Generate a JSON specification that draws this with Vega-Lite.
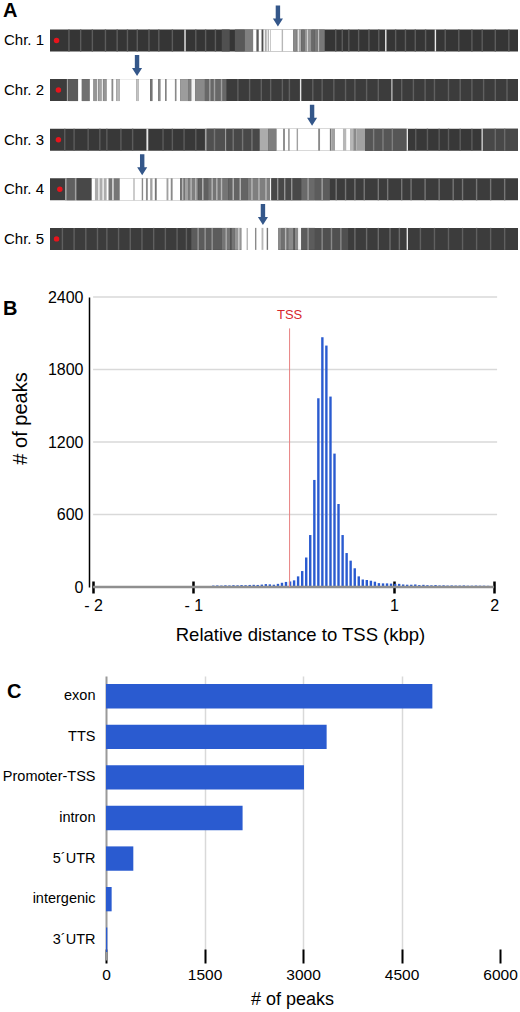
{
  "$schema": "https://vega.github.io/schema/vega-lite/v6.json",
  "padding": {"left": 2, "top": 1, "right": 0, "bottom": 0},
  "background": "white",
  "spacing": 32,
  "config": {
    "view": {"stroke": null},
    "font": "Liberation Sans",
    "axis": {"labelColor": "#000", "titleColor": "#000", "titleFontWeight": "normal", "labelFont": "Liberation Sans", "titleFont": "Liberation Sans"},
    "title": {"font": "Liberation Sans", "fontWeight": "bold", "fontSize": 20, "color": "#000", "anchor": "start", "frame": "group"}
  },
  "vconcat": [
    {
      "width": 468,
      "height": 256,
      "title": {"text": "A", "dx": -47, "offset": -20},
      "layer": [
        {
          "data": {"values": [
            {"chr": "Chr. 1", "s": 0, "e": 100, "d": 0.92},
            {"chr": "Chr. 1", "s": 36.7, "e": 38.4, "d": 0.78},
            {"chr": "Chr. 1", "s": 39.5, "e": 41.6, "d": 0.74},
            {"chr": "Chr. 1", "s": 41.6, "e": 43.4, "d": 0.55},
            {"chr": "Chr. 1", "s": 43.4, "e": 52.0, "d": 0},
            {"chr": "Chr. 1", "s": 44.1, "e": 44.6, "d": 0.72},
            {"chr": "Chr. 1", "s": 45.2, "e": 45.6, "d": 0.8},
            {"chr": "Chr. 1", "s": 45.9, "e": 46.3, "d": 0.35},
            {"chr": "Chr. 1", "s": 46.5, "e": 46.8, "d": 0.3},
            {"chr": "Chr. 1", "s": 47.0, "e": 47.2, "d": 0.25},
            {"chr": "Chr. 1", "s": 49.5, "e": 49.8, "d": 0.3},
            {"chr": "Chr. 1", "s": 52.0, "e": 52.7, "d": 0.5},
            {"chr": "Chr. 1", "s": 52.7, "e": 53.7, "d": 0.35},
            {"chr": "Chr. 1", "s": 53.7, "e": 54.4, "d": 0.62},
            {"chr": "Chr. 1", "s": 54.4, "e": 55.9, "d": 0.45},
            {"chr": "Chr. 1", "s": 55.9, "e": 56.6, "d": 0.65},
            {"chr": "Chr. 1", "s": 56.6, "e": 58.7, "d": 0.58},
            {"chr": "Chr. 1", "s": 53.0, "e": 53.2, "d": 0.1},
            {"chr": "Chr. 1", "s": 54.9, "e": 55.1, "d": 0.15},
            {"chr": "Chr. 1", "s": 57.3, "e": 57.5, "d": 0.2},
            {"chr": "Chr. 1", "s": 28.7, "e": 29.0, "d": 0.08},
            {"chr": "Chr. 1", "s": 71.6, "e": 71.9, "d": 0.08},
            {"chr": "Chr. 1", "s": 82.2, "e": 82.5, "d": 0.08},
            {"chr": "Chr. 1", "s": 3.9, "e": 4.2, "d": 0.72},
            {"chr": "Chr. 1", "s": 6.4, "e": 6.7, "d": 0.72},
            {"chr": "Chr. 1", "s": 8.9, "e": 9.2, "d": 0.72},
            {"chr": "Chr. 1", "s": 11.7, "e": 12.0, "d": 0.72},
            {"chr": "Chr. 1", "s": 14.2, "e": 14.5, "d": 0.72},
            {"chr": "Chr. 1", "s": 16.4, "e": 16.7, "d": 0.72},
            {"chr": "Chr. 1", "s": 18.5, "e": 18.8, "d": 0.72},
            {"chr": "Chr. 1", "s": 21.0, "e": 21.3, "d": 0.72},
            {"chr": "Chr. 1", "s": 23.1, "e": 23.4, "d": 0.72},
            {"chr": "Chr. 1", "s": 26.0, "e": 26.3, "d": 0.72},
            {"chr": "Chr. 1", "s": 31.0, "e": 31.3, "d": 0.72},
            {"chr": "Chr. 1", "s": 33.1, "e": 33.4, "d": 0.72},
            {"chr": "Chr. 1", "s": 35.2, "e": 35.5, "d": 0.72},
            {"chr": "Chr. 1", "s": 60.9, "e": 61.2, "d": 0.72},
            {"chr": "Chr. 1", "s": 62.3, "e": 62.6, "d": 0.72},
            {"chr": "Chr. 1", "s": 63.7, "e": 64.0, "d": 0.72},
            {"chr": "Chr. 1", "s": 65.8, "e": 66.1, "d": 0.72},
            {"chr": "Chr. 1", "s": 68.0, "e": 68.3, "d": 0.72},
            {"chr": "Chr. 1", "s": 70.1, "e": 70.4, "d": 0.72},
            {"chr": "Chr. 1", "s": 73.7, "e": 74.0, "d": 0.72},
            {"chr": "Chr. 1", "s": 75.8, "e": 76.1, "d": 0.72},
            {"chr": "Chr. 1", "s": 77.9, "e": 78.2, "d": 0.72},
            {"chr": "Chr. 1", "s": 80.1, "e": 80.4, "d": 0.72},
            {"chr": "Chr. 1", "s": 84.3, "e": 84.6, "d": 0.72},
            {"chr": "Chr. 1", "s": 87.2, "e": 87.5, "d": 0.72},
            {"chr": "Chr. 1", "s": 90.0, "e": 90.3, "d": 0.72},
            {"chr": "Chr. 1", "s": 92.2, "e": 92.5, "d": 0.72},
            {"chr": "Chr. 1", "s": 95.0, "e": 95.3, "d": 0.72},
            {"chr": "Chr. 1", "s": 97.9, "e": 98.2, "d": 0.72},

            {"chr": "Chr. 2", "s": 0, "e": 100, "d": 0.88},
            {"chr": "Chr. 2", "s": 3.6, "e": 3.9, "d": 0.4},
            {"chr": "Chr. 2", "s": 3.9, "e": 6.0, "d": 0.72},
            {"chr": "Chr. 2", "s": 6.0, "e": 6.8, "d": 0},
            {"chr": "Chr. 2", "s": 6.8, "e": 8.5, "d": 0.62},
            {"chr": "Chr. 2", "s": 8.5, "e": 9.3, "d": 0},
            {"chr": "Chr. 2", "s": 9.3, "e": 10.0, "d": 0.45},
            {"chr": "Chr. 2", "s": 10.0, "e": 10.3, "d": 0.1},
            {"chr": "Chr. 2", "s": 10.3, "e": 11.0, "d": 0.4},
            {"chr": "Chr. 2", "s": 11.0, "e": 11.4, "d": 0.1},
            {"chr": "Chr. 2", "s": 11.4, "e": 12.1, "d": 0.45},
            {"chr": "Chr. 2", "s": 12.1, "e": 13.2, "d": 0},
            {"chr": "Chr. 2", "s": 13.2, "e": 13.5, "d": 0.5},
            {"chr": "Chr. 2", "s": 13.5, "e": 14.2, "d": 0},
            {"chr": "Chr. 2", "s": 14.2, "e": 14.9, "d": 0.3},
            {"chr": "Chr. 2", "s": 14.9, "e": 18.5, "d": 0},
            {"chr": "Chr. 2", "s": 18.5, "e": 19.0, "d": 0.25},
            {"chr": "Chr. 2", "s": 19.0, "e": 21.4, "d": 0},
            {"chr": "Chr. 2", "s": 21.4, "e": 21.9, "d": 0.6},
            {"chr": "Chr. 2", "s": 21.9, "e": 23.1, "d": 0},
            {"chr": "Chr. 2", "s": 23.1, "e": 23.6, "d": 0.5},
            {"chr": "Chr. 2", "s": 23.6, "e": 24.6, "d": 0},
            {"chr": "Chr. 2", "s": 24.6, "e": 24.9, "d": 0.5},
            {"chr": "Chr. 2", "s": 24.9, "e": 26.7, "d": 0},
            {"chr": "Chr. 2", "s": 26.7, "e": 27.0, "d": 0.5},
            {"chr": "Chr. 2", "s": 27.0, "e": 27.8, "d": 0},
            {"chr": "Chr. 2", "s": 27.8, "e": 29.5, "d": 0.42},
            {"chr": "Chr. 2", "s": 29.5, "e": 30.2, "d": 0.55},
            {"chr": "Chr. 2", "s": 30.2, "e": 31.0, "d": 0.05},
            {"chr": "Chr. 2", "s": 31.0, "e": 33.1, "d": 0.5},
            {"chr": "Chr. 2", "s": 33.1, "e": 37.7, "d": 0.66},
            {"chr": "Chr. 2", "s": 34.0, "e": 34.3, "d": 0.4},
            {"chr": "Chr. 2", "s": 35.0, "e": 35.3, "d": 0.4},
            {"chr": "Chr. 2", "s": 36.5, "e": 36.8, "d": 0.4},
            {"chr": "Chr. 2", "s": 40.0, "e": 40.3, "d": 0.7},
            {"chr": "Chr. 2", "s": 42.5, "e": 42.8, "d": 0.7},
            {"chr": "Chr. 2", "s": 45.0, "e": 45.3, "d": 0.7},
            {"chr": "Chr. 2", "s": 47.0, "e": 47.3, "d": 0.7},
            {"chr": "Chr. 2", "s": 49.5, "e": 49.8, "d": 0.7},
            {"chr": "Chr. 2", "s": 51.0, "e": 51.3, "d": 0.7},
            {"chr": "Chr. 2", "s": 53.4, "e": 53.7, "d": 0.1},
            {"chr": "Chr. 2", "s": 56.0, "e": 56.3, "d": 0.7},
            {"chr": "Chr. 2", "s": 58.0, "e": 58.3, "d": 0.7},
            {"chr": "Chr. 2", "s": 60.5, "e": 60.8, "d": 0.7},
            {"chr": "Chr. 2", "s": 63.0, "e": 63.3, "d": 0.7},
            {"chr": "Chr. 2", "s": 65.0, "e": 65.3, "d": 0.7},
            {"chr": "Chr. 2", "s": 67.5, "e": 67.8, "d": 0.7},
            {"chr": "Chr. 2", "s": 70.0, "e": 70.3, "d": 0.7},
            {"chr": "Chr. 2", "s": 72.9, "e": 73.2, "d": 0.3},
            {"chr": "Chr. 2", "s": 75.0, "e": 75.3, "d": 0.7},
            {"chr": "Chr. 2", "s": 77.5, "e": 77.8, "d": 0.7},
            {"chr": "Chr. 2", "s": 80.0, "e": 80.3, "d": 0.7},
            {"chr": "Chr. 2", "s": 82.0, "e": 82.3, "d": 0.7},
            {"chr": "Chr. 2", "s": 85.0, "e": 85.3, "d": 0.7},
            {"chr": "Chr. 2", "s": 87.5, "e": 87.8, "d": 0.7},
            {"chr": "Chr. 2", "s": 90.0, "e": 90.3, "d": 0.7},
            {"chr": "Chr. 2", "s": 92.5, "e": 92.8, "d": 0.7},
            {"chr": "Chr. 2", "s": 95.0, "e": 95.3, "d": 0.7},
            {"chr": "Chr. 2", "s": 97.5, "e": 97.8, "d": 0.7},

            {"chr": "Chr. 3", "s": 0, "e": 100, "d": 0.9},
            {"chr": "Chr. 3", "s": 20.6, "e": 21.0, "d": 0.1},
            {"chr": "Chr. 3", "s": 33.1, "e": 33.5, "d": 0.4},
            {"chr": "Chr. 3", "s": 33.5, "e": 37.4, "d": 0.78},
            {"chr": "Chr. 3", "s": 37.4, "e": 37.7, "d": 0.4},
            {"chr": "Chr. 3", "s": 37.7, "e": 44.8, "d": 0.82},
            {"chr": "Chr. 3", "s": 44.8, "e": 46.6, "d": 0.35},
            {"chr": "Chr. 3", "s": 46.6, "e": 48.4, "d": 0.55},
            {"chr": "Chr. 3", "s": 48.4, "e": 67.3, "d": 0},
            {"chr": "Chr. 3", "s": 49.8, "e": 50.2, "d": 0.5},
            {"chr": "Chr. 3", "s": 50.9, "e": 51.2, "d": 0.5},
            {"chr": "Chr. 3", "s": 52.7, "e": 53.0, "d": 0.4},
            {"chr": "Chr. 3", "s": 57.3, "e": 57.7, "d": 0.5},
            {"chr": "Chr. 3", "s": 59.8, "e": 60.1, "d": 0.6},
            {"chr": "Chr. 3", "s": 60.1, "e": 60.9, "d": 0.4},
            {"chr": "Chr. 3", "s": 62.6, "e": 63.3, "d": 0.3},
            {"chr": "Chr. 3", "s": 64.1, "e": 64.8, "d": 0.3},
            {"chr": "Chr. 3", "s": 64.8, "e": 65.5, "d": 0.5},
            {"chr": "Chr. 3", "s": 65.5, "e": 67.3, "d": 0.4},
            {"chr": "Chr. 3", "s": 67.3, "e": 76.2, "d": 0.75},
            {"chr": "Chr. 3", "s": 76.2, "e": 76.5, "d": 0.1},
            {"chr": "Chr. 3", "s": 92.2, "e": 92.5, "d": 0.15},
            {"chr": "Chr. 3", "s": 92.5, "e": 100, "d": 0.82},
            {"chr": "Chr. 3", "s": 3.0, "e": 3.3, "d": 0.72},
            {"chr": "Chr. 3", "s": 5.0, "e": 5.3, "d": 0.72},
            {"chr": "Chr. 3", "s": 8.0, "e": 8.3, "d": 0.72},
            {"chr": "Chr. 3", "s": 10.5, "e": 10.8, "d": 0.72},
            {"chr": "Chr. 3", "s": 12.0, "e": 12.3, "d": 0.72},
            {"chr": "Chr. 3", "s": 15.0, "e": 15.3, "d": 0.72},
            {"chr": "Chr. 3", "s": 17.5, "e": 17.8, "d": 0.72},
            {"chr": "Chr. 3", "s": 24.0, "e": 24.3, "d": 0.72},
            {"chr": "Chr. 3", "s": 26.0, "e": 26.3, "d": 0.72},
            {"chr": "Chr. 3", "s": 28.5, "e": 28.8, "d": 0.72},
            {"chr": "Chr. 3", "s": 31.0, "e": 31.3, "d": 0.72},
            {"chr": "Chr. 3", "s": 35.0, "e": 35.3, "d": 0.6},
            {"chr": "Chr. 3", "s": 39.0, "e": 39.3, "d": 0.6},
            {"chr": "Chr. 3", "s": 41.0, "e": 41.3, "d": 0.6},
            {"chr": "Chr. 3", "s": 43.0, "e": 43.3, "d": 0.6},
            {"chr": "Chr. 3", "s": 69.0, "e": 69.3, "d": 0.55},
            {"chr": "Chr. 3", "s": 71.0, "e": 71.3, "d": 0.55},
            {"chr": "Chr. 3", "s": 73.0, "e": 73.3, "d": 0.55},
            {"chr": "Chr. 3", "s": 78.0, "e": 78.3, "d": 0.72},
            {"chr": "Chr. 3", "s": 80.5, "e": 80.8, "d": 0.72},
            {"chr": "Chr. 3", "s": 83.0, "e": 83.3, "d": 0.72},
            {"chr": "Chr. 3", "s": 85.0, "e": 85.3, "d": 0.72},
            {"chr": "Chr. 3", "s": 87.5, "e": 87.8, "d": 0.72},
            {"chr": "Chr. 3", "s": 90.0, "e": 90.3, "d": 0.72},
            {"chr": "Chr. 3", "s": 95.0, "e": 95.3, "d": 0.65},
            {"chr": "Chr. 3", "s": 97.0, "e": 97.3, "d": 0.65},

            {"chr": "Chr. 4", "s": 0, "e": 100, "d": 0.88},
            {"chr": "Chr. 4", "s": 3.2, "e": 3.6, "d": 0.4},
            {"chr": "Chr. 4", "s": 3.6, "e": 5.3, "d": 0.7},
            {"chr": "Chr. 4", "s": 5.3, "e": 5.7, "d": 0.4},
            {"chr": "Chr. 4", "s": 5.7, "e": 8.9, "d": 0.82},
            {"chr": "Chr. 4", "s": 8.9, "e": 27.8, "d": 0},
            {"chr": "Chr. 4", "s": 9.6, "e": 12.1, "d": 0.35},
            {"chr": "Chr. 4", "s": 10.3, "e": 10.6, "d": 0.05},
            {"chr": "Chr. 4", "s": 11.2, "e": 11.5, "d": 0.05},
            {"chr": "Chr. 4", "s": 12.5, "e": 14.9, "d": 0.6},
            {"chr": "Chr. 4", "s": 13.3, "e": 13.6, "d": 0.1},
            {"chr": "Chr. 4", "s": 17.8, "e": 18.1, "d": 0.3},
            {"chr": "Chr. 4", "s": 19.6, "e": 19.9, "d": 0.5},
            {"chr": "Chr. 4", "s": 20.5, "e": 20.9, "d": 0.5},
            {"chr": "Chr. 4", "s": 21.4, "e": 21.9, "d": 0.4},
            {"chr": "Chr. 4", "s": 22.4, "e": 22.8, "d": 0.6},
            {"chr": "Chr. 4", "s": 24.9, "e": 25.3, "d": 0.4},
            {"chr": "Chr. 4", "s": 25.8, "e": 26.2, "d": 0.5},
            {"chr": "Chr. 4", "s": 27.8, "e": 28.8, "d": 0.6},
            {"chr": "Chr. 4", "s": 28.8, "e": 29.5, "d": 0.4},
            {"chr": "Chr. 4", "s": 29.5, "e": 31.7, "d": 0.55},
            {"chr": "Chr. 4", "s": 31.7, "e": 33.8, "d": 0.7},
            {"chr": "Chr. 4", "s": 33.8, "e": 38.1, "d": 0.6},
            {"chr": "Chr. 4", "s": 38.1, "e": 42.3, "d": 0.68},
            {"chr": "Chr. 4", "s": 42.3, "e": 47.0, "d": 0.55},
            {"chr": "Chr. 4", "s": 47.0, "e": 47.3, "d": 0.05},
            {"chr": "Chr. 4", "s": 47.3, "e": 53.7, "d": 0.82},
            {"chr": "Chr. 4", "s": 53.7, "e": 56.6, "d": 0.65},
            {"chr": "Chr. 4", "s": 56.6, "e": 59.8, "d": 0.72},
            {"chr": "Chr. 4", "s": 28.2, "e": 28.5, "d": 0.3},
            {"chr": "Chr. 4", "s": 30.0, "e": 30.3, "d": 0.3},
            {"chr": "Chr. 4", "s": 31.0, "e": 31.3, "d": 0.3},
            {"chr": "Chr. 4", "s": 32.5, "e": 32.8, "d": 0.3},
            {"chr": "Chr. 4", "s": 34.5, "e": 34.8, "d": 0.3},
            {"chr": "Chr. 4", "s": 35.5, "e": 35.8, "d": 0.3},
            {"chr": "Chr. 4", "s": 36.5, "e": 36.8, "d": 0.3},
            {"chr": "Chr. 4", "s": 39.0, "e": 39.3, "d": 0.3},
            {"chr": "Chr. 4", "s": 40.5, "e": 40.8, "d": 0.3},
            {"chr": "Chr. 4", "s": 43.0, "e": 43.3, "d": 0.3},
            {"chr": "Chr. 4", "s": 44.5, "e": 44.8, "d": 0.3},
            {"chr": "Chr. 4", "s": 46.0, "e": 46.3, "d": 0.3},
            {"chr": "Chr. 4", "s": 48.5, "e": 48.8, "d": 0.45},
            {"chr": "Chr. 4", "s": 50.0, "e": 50.3, "d": 0.45},
            {"chr": "Chr. 4", "s": 51.5, "e": 51.8, "d": 0.45},
            {"chr": "Chr. 4", "s": 55.0, "e": 55.3, "d": 0.4},
            {"chr": "Chr. 4", "s": 58.0, "e": 58.3, "d": 0.4},
            {"chr": "Chr. 4", "s": 61.0, "e": 61.3, "d": 0.6},
            {"chr": "Chr. 4", "s": 63.0, "e": 63.3, "d": 0.6},
            {"chr": "Chr. 4", "s": 65.0, "e": 65.3, "d": 0.6},
            {"chr": "Chr. 4", "s": 67.0, "e": 67.3, "d": 0.6},
            {"chr": "Chr. 4", "s": 70.0, "e": 70.3, "d": 0.6},
            {"chr": "Chr. 4", "s": 72.0, "e": 72.3, "d": 0.6},
            {"chr": "Chr. 4", "s": 75.0, "e": 75.3, "d": 0.6},
            {"chr": "Chr. 4", "s": 77.0, "e": 77.3, "d": 0.6},
            {"chr": "Chr. 4", "s": 80.0, "e": 80.3, "d": 0.6},
            {"chr": "Chr. 4", "s": 83.0, "e": 83.3, "d": 0.6},
            {"chr": "Chr. 4", "s": 86.0, "e": 86.3, "d": 0.6},
            {"chr": "Chr. 4", "s": 88.0, "e": 88.3, "d": 0.6},
            {"chr": "Chr. 4", "s": 91.0, "e": 91.3, "d": 0.6},
            {"chr": "Chr. 4", "s": 94.0, "e": 94.3, "d": 0.6},
            {"chr": "Chr. 4", "s": 97.0, "e": 97.3, "d": 0.6},

            {"chr": "Chr. 5", "s": 0, "e": 100, "d": 0.88},
            {"chr": "Chr. 5", "s": 30.2, "e": 36.7, "d": 0.72},
            {"chr": "Chr. 5", "s": 36.7, "e": 39.5, "d": 0.6},
            {"chr": "Chr. 5", "s": 39.5, "e": 40.9, "d": 0.45},
            {"chr": "Chr. 5", "s": 40.9, "e": 48.8, "d": 0},
            {"chr": "Chr. 5", "s": 42.0, "e": 42.3, "d": 0.3},
            {"chr": "Chr. 5", "s": 43.8, "e": 44.1, "d": 0.5},
            {"chr": "Chr. 5", "s": 45.2, "e": 45.6, "d": 0.3},
            {"chr": "Chr. 5", "s": 46.3, "e": 46.6, "d": 0.6},
            {"chr": "Chr. 5", "s": 48.8, "e": 49.5, "d": 0.5},
            {"chr": "Chr. 5", "s": 49.5, "e": 50.9, "d": 0.62},
            {"chr": "Chr. 5", "s": 50.9, "e": 53.0, "d": 0.5},
            {"chr": "Chr. 5", "s": 53.0, "e": 53.7, "d": 0.05},
            {"chr": "Chr. 5", "s": 53.7, "e": 56.6, "d": 0.72},
            {"chr": "Chr. 5", "s": 56.6, "e": 63.7, "d": 0.78},
            {"chr": "Chr. 5", "s": 76.2, "e": 76.5, "d": 0.1},
            {"chr": "Chr. 5", "s": 2.5, "e": 2.8, "d": 0.7},
            {"chr": "Chr. 5", "s": 5.0, "e": 5.3, "d": 0.7},
            {"chr": "Chr. 5", "s": 7.5, "e": 7.8, "d": 0.7},
            {"chr": "Chr. 5", "s": 10.0, "e": 10.3, "d": 0.7},
            {"chr": "Chr. 5", "s": 12.0, "e": 12.3, "d": 0.7},
            {"chr": "Chr. 5", "s": 14.5, "e": 14.8, "d": 0.7},
            {"chr": "Chr. 5", "s": 17.0, "e": 17.3, "d": 0.7},
            {"chr": "Chr. 5", "s": 19.5, "e": 19.8, "d": 0.7},
            {"chr": "Chr. 5", "s": 22.0, "e": 22.3, "d": 0.7},
            {"chr": "Chr. 5", "s": 24.5, "e": 24.8, "d": 0.7},
            {"chr": "Chr. 5", "s": 27.0, "e": 27.3, "d": 0.7},
            {"chr": "Chr. 5", "s": 29.0, "e": 29.3, "d": 0.7},
            {"chr": "Chr. 5", "s": 31.5, "e": 31.8, "d": 0.45},
            {"chr": "Chr. 5", "s": 33.0, "e": 33.3, "d": 0.45},
            {"chr": "Chr. 5", "s": 34.5, "e": 34.8, "d": 0.45},
            {"chr": "Chr. 5", "s": 37.5, "e": 37.8, "d": 0.35},
            {"chr": "Chr. 5", "s": 38.5, "e": 38.8, "d": 0.8},
            {"chr": "Chr. 5", "s": 40.2, "e": 40.5, "d": 0.2},
            {"chr": "Chr. 5", "s": 50.2, "e": 50.5, "d": 0.3},
            {"chr": "Chr. 5", "s": 52.0, "e": 52.3, "d": 0.8},
            {"chr": "Chr. 5", "s": 55.0, "e": 55.3, "d": 0.45},
            {"chr": "Chr. 5", "s": 58.0, "e": 58.3, "d": 0.5},
            {"chr": "Chr. 5", "s": 60.0, "e": 60.3, "d": 0.5},
            {"chr": "Chr. 5", "s": 62.0, "e": 62.3, "d": 0.5},
            {"chr": "Chr. 5", "s": 65.0, "e": 65.3, "d": 0.65},
            {"chr": "Chr. 5", "s": 67.5, "e": 67.8, "d": 0.65},
            {"chr": "Chr. 5", "s": 70.0, "e": 70.3, "d": 0.65},
            {"chr": "Chr. 5", "s": 72.5, "e": 72.8, "d": 0.65},
            {"chr": "Chr. 5", "s": 74.5, "e": 74.8, "d": 0.65},
            {"chr": "Chr. 5", "s": 79.0, "e": 79.3, "d": 0.7},
            {"chr": "Chr. 5", "s": 82.0, "e": 82.3, "d": 0.7},
            {"chr": "Chr. 5", "s": 85.0, "e": 85.3, "d": 0.7},
            {"chr": "Chr. 5", "s": 88.0, "e": 88.3, "d": 0.7},
            {"chr": "Chr. 5", "s": 91.0, "e": 91.3, "d": 0.7},
            {"chr": "Chr. 5", "s": 94.0, "e": 94.3, "d": 0.7},
            {"chr": "Chr. 5", "s": 97.0, "e": 97.3, "d": 0.7}
          ]},
          "mark": {"type": "rect"},
          "encoding": {
            "x": {"field": "s", "type": "quantitative", "scale": {"domain": [0, 100], "nice": false, "zero": false}, "axis": null},
            "x2": {"field": "e"},
            "y": {
              "field": "chr", "type": "nominal",
              "scale": {"domain": ["Chr. 1", "Chr. 2", "Chr. 3", "Chr. 4", "Chr. 5"], "paddingInner": 0.5565, "paddingOuter": 0.359, "align": 0.8},
              "axis": {"domain": false, "ticks": false, "labelFontSize": 15, "labelPadding": 6.5, "title": null}
            },
            "fill": {"field": "d", "type": "quantitative", "scale": {"domain": [0, 1], "range": ["#ffffff", "#262626"]}, "legend": null}
          }
        },
        {
          "data": {"values": [
            {"chr": "Chr. 1", "dot": 1.4, "arrow": 48.7},
            {"chr": "Chr. 2", "dot": 1.8, "arrow": 18.6},
            {"chr": "Chr. 3", "dot": 1.8, "arrow": 56.0},
            {"chr": "Chr. 4", "dot": 2.1, "arrow": 19.7},
            {"chr": "Chr. 5", "dot": 1.4, "arrow": 45.5}
          ]},
          "layer": [
            {
              "mark": {"type": "point", "shape": "circle", "filled": true, "color": "#e8141c", "opacity": 1, "size": 30},
              "encoding": {"x": {"field": "dot", "type": "quantitative"}, "y": {"field": "chr", "type": "nominal"}}
            },
            {
              "mark": {"type": "point", "shape": "M-0.21,-1L0.21,-1L0.21,0.24L0.48,0.24L0,1L-0.48,0.24L-0.21,0.24Z", "filled": true, "color": "#34578a", "opacity": 1, "size": 441, "yOffset": -24.5},
              "encoding": {"x": {"field": "arrow", "type": "quantitative"}, "y": {"field": "chr", "type": "nominal"}}
            }
          ]
        }
      ]
    },
    {
      "width": 452,
      "height": 290,
      "title": {"text": "B", "dx": -47, "offset": -30},
      "layer": [
        {
          "data": {"values": [
            {"level": 600, "from": -2, "to": 2.03},
            {"level": 1200, "from": -2, "to": 2.03},
            {"level": 1800, "from": -2, "to": 2.03},
            {"level": 2400, "from": -2, "to": 2.03}
          ]},
          "mark": {"type": "rule", "color": "#d9d9d9", "strokeWidth": 1.5},
          "encoding": {
            "y": {"field": "level", "type": "quantitative"},
            "x": {"field": "from", "type": "quantitative"},
            "x2": {"field": "to"}
          }
        },
        {
          "data": {"values": [
            {"kbp": -0.801, "peaks": 12}, {"kbp": -0.761, "peaks": 13}, {"kbp": -0.720, "peaks": 12}, {"kbp": -0.680, "peaks": 14},
            {"kbp": -0.640, "peaks": 13}, {"kbp": -0.600, "peaks": 15}, {"kbp": -0.559, "peaks": 14}, {"kbp": -0.519, "peaks": 16},
            {"kbp": -0.479, "peaks": 15}, {"kbp": -0.438, "peaks": 17}, {"kbp": -0.398, "peaks": 18}, {"kbp": -0.358, "peaks": 17},
            {"kbp": -0.317, "peaks": 20}, {"kbp": -0.277, "peaks": 24}, {"kbp": -0.237, "peaks": 22}, {"kbp": -0.197, "peaks": 19},
            {"kbp": -0.156, "peaks": 26}, {"kbp": -0.116, "peaks": 35}, {"kbp": -0.076, "peaks": 42}, {"kbp": -0.035, "peaks": 46},
            {"kbp": 0.005, "peaks": 55}, {"kbp": 0.045, "peaks": 88}, {"kbp": 0.086, "peaks": 132}, {"kbp": 0.126, "peaks": 245},
            {"kbp": 0.166, "peaks": 430}, {"kbp": 0.207, "peaks": 886}, {"kbp": 0.247, "peaks": 1562}, {"kbp": 0.287, "peaks": 2067},
            {"kbp": 0.327, "peaks": 1998}, {"kbp": 0.368, "peaks": 1576}, {"kbp": 0.408, "peaks": 1104}, {"kbp": 0.448, "peaks": 687},
            {"kbp": 0.489, "peaks": 430}, {"kbp": 0.529, "peaks": 281}, {"kbp": 0.569, "peaks": 218}, {"kbp": 0.610, "peaks": 155},
            {"kbp": 0.650, "peaks": 88}, {"kbp": 0.690, "peaks": 62}, {"kbp": 0.730, "peaks": 58}, {"kbp": 0.771, "peaks": 52},
            {"kbp": 0.811, "peaks": 44}, {"kbp": 0.851, "peaks": 32}, {"kbp": 0.892, "peaks": 30}, {"kbp": 0.932, "peaks": 30},
            {"kbp": 0.972, "peaks": 28}, {"kbp": 1.013, "peaks": 26}, {"kbp": 1.053, "peaks": 26}, {"kbp": 1.093, "peaks": 21},
            {"kbp": 1.133, "peaks": 19}, {"kbp": 1.174, "peaks": 19}, {"kbp": 1.214, "peaks": 21}, {"kbp": 1.254, "peaks": 16},
            {"kbp": 1.295, "peaks": 18}, {"kbp": 1.335, "peaks": 15}, {"kbp": 1.375, "peaks": 14}, {"kbp": 1.416, "peaks": 16},
            {"kbp": 1.456, "peaks": 13}, {"kbp": 1.496, "peaks": 14}, {"kbp": 1.536, "peaks": 12}, {"kbp": 1.577, "peaks": 13},
            {"kbp": 1.617, "peaks": 12}, {"kbp": 1.657, "peaks": 12}, {"kbp": 1.698, "peaks": 13}, {"kbp": 1.738, "peaks": 11},
            {"kbp": 1.778, "peaks": 11}, {"kbp": 1.819, "peaks": 12}, {"kbp": 1.859, "peaks": 11}, {"kbp": 1.899, "peaks": 11},
            {"kbp": 1.940, "peaks": 10}
          ]},
          "mark": {"type": "bar", "width": 2.4, "color": "#2a5bd0"},
          "encoding": {
            "x": {
              "field": "kbp", "type": "quantitative",
              "scale": {"domain": [-2.38, 2.029], "nice": false, "zero": false},
              "axis": {
                "values": [-2, -1, 1, 2], "domain": false, "grid": false,
                "ticks": true, "tickColor": "#000", "tickWidth": 2.5, "tickSize": 12, "offset": -6,
                "labelFontSize": 16, "labelPadding": 4, "labelFlush": false, "labelOverlap": false,
                "labelExpr": "datum.value < 0 ? '- ' + abs(datum.value) : '' + datum.value",
                "title": "Relative distance to TSS (kbp)", "titleFontSize": 18.5, "titlePadding": 12, "titleX": 250
              }
            },
            "y": {
              "field": "peaks", "type": "quantitative",
              "scale": {"domain": [0, 2400], "nice": false},
              "axis": {
                "values": [0, 600, 1200, 1800, 2400], "format": "d", "offset": -39,
                "domain": true, "domainColor": "#000", "domainWidth": 1.5,
                "ticks": false, "grid": false,
                "labelFontSize": 16, "labelPadding": 6,
                "title": "# of peaks", "titleFontSize": 20, "titlePadding": 17, "titleY": 121
              }
            }
          }
        },
        {
          "data": {"values": [{"base": 0, "from": -2, "to": 2}]},
          "mark": {"type": "rule", "color": "#8f8f8f", "strokeWidth": 2.5},
          "encoding": {
            "y": {"field": "base", "type": "quantitative"},
            "x": {"field": "from", "type": "quantitative"},
            "x2": {"field": "to"}
          }
        },
        {
          "data": {"values": [{"pos": -0.04, "bottom": 0, "top": 2140, "labelY": 2250, "label": "TSS"}]},
          "layer": [
            {
              "mark": {"type": "rule", "color": "#e88080", "strokeWidth": 1},
              "encoding": {
                "x": {"field": "pos", "type": "quantitative"},
                "y": {"field": "bottom", "type": "quantitative"},
                "y2": {"field": "top"}
              }
            },
            {
              "mark": {"type": "text", "color": "#d8262c", "fontSize": 13, "font": "Liberation Sans", "baseline": "middle"},
              "encoding": {
                "x": {"field": "pos", "type": "quantitative"},
                "y": {"field": "labelY", "type": "quantitative"},
                "text": {"field": "label"}
              }
            }
          ]
        }
      ]
    },
    {
      "width": 450,
      "height": 284,
      "title": {"text": "C", "dx": -43, "offset": -26},
      "data": {"values": [
        {"region": "exon", "peaks": 4970},
        {"region": "TTS", "peaks": 3360},
        {"region": "Promoter-TSS", "peaks": 3015},
        {"region": "intron", "peaks": 2080},
        {"region": "5´UTR", "peaks": 416},
        {"region": "intergenic", "peaks": 86},
        {"region": "3´UTR", "peaks": 20}
      ]},
      "mark": {"type": "bar", "color": "#2a5bd0"},
      "encoding": {
        "y": {
          "field": "region", "type": "nominal", "sort": null,
          "scale": {"paddingInner": 0.4, "paddingOuter": 0.2},
          "axis": {"offset": -56, "domain": true, "domainColor": "#9a9a9a", "domainWidth": 2, "ticks": false, "grid": false, "labelFontSize": 14.5, "labelPadding": 11, "title": null}
        },
        "x": {
          "field": "peaks", "type": "quantitative",
          "scale": {"domain": [-852.8, 6000], "nice": false, "zero": false},
          "axis": {
            "values": [0, 1500, 3000, 4500, 6000], "format": "d", "domain": false,
            "ticks": true, "tickColor": "#000", "tickWidth": 2, "tickSize": 14, "offset": -11,
            "grid": true, "gridColor": "#d9d9d9", "gridWidth": 1.5,
            "gridOpacity": {"condition": {"test": "datum.value === 0 || datum.value === 6000", "value": 0}, "value": 1},
            "labelFontSize": 15.5, "labelPadding": 4, "labelFlush": false, "labelOverlap": false,
            "title": "# of peaks", "titleFontSize": 18, "titlePadding": 8, "titleX": 242
          }
        }
      }
    }
  ]
}
